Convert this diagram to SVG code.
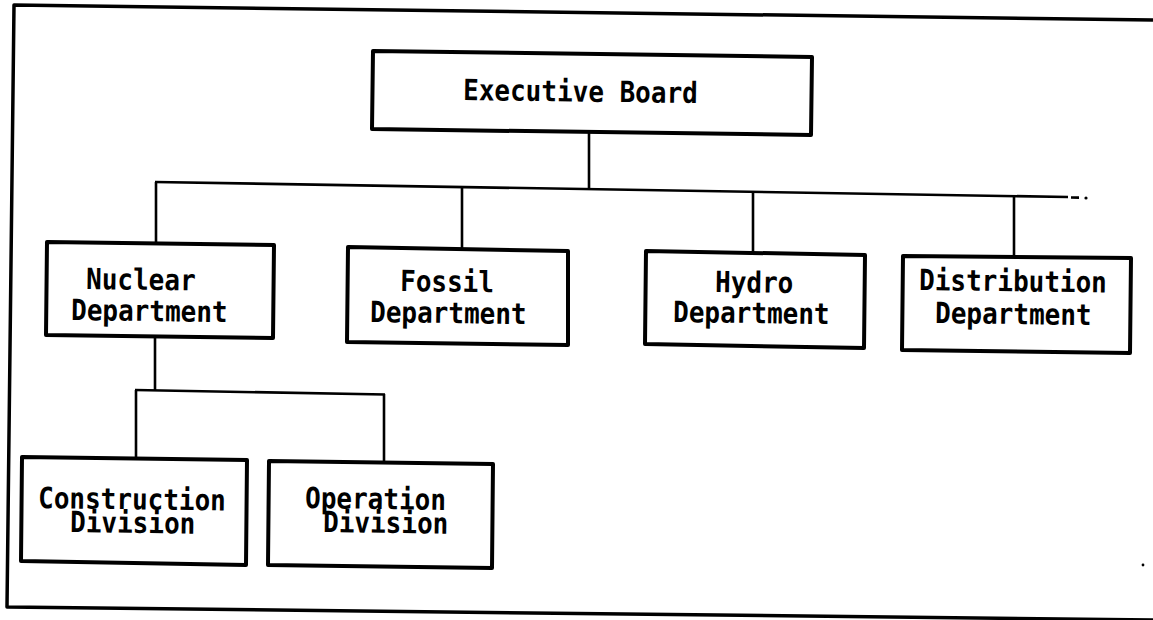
<svg xmlns="http://www.w3.org/2000/svg" width="1153" height="620" viewBox="0 0 1153 620">
  <style>
    .frame { fill: none; stroke: #000; stroke-width: 3.5; stroke-linejoin: round; }
    .box { fill: #fff; stroke: #000; stroke-width: 4; stroke-linejoin: round; }
    .wire { fill: none; stroke: #000; stroke-width: 2.6; stroke-linecap: butt; }
    .label { font-family: "DejaVu Sans Mono", "Liberation Mono", monospace; font-size: 26px; font-weight: bold; fill: #000; }
  </style>

  <rect width="1153" height="620" fill="#fff"/>

  <!-- page border (open on the right) -->
  <polyline class="frame" points="1153,20 14,5 7,607 1153,620"/>

  <!-- connectors -->
  <g id="connectors">
    <line class="wire" x1="589" y1="131" x2="589" y2="188"/>
    <line class="wire" x1="155" y1="182" x2="1068" y2="197"/>
    <line class="wire" x1="1071" y1="197.5" x2="1079" y2="197.6"/>
    <circle cx="1086" cy="198" r="1.6" fill="#000"/>
    <line class="wire" x1="156" y1="182" x2="156" y2="243"/>
    <line class="wire" x1="462" y1="186" x2="462" y2="248"/>
    <line class="wire" x1="753" y1="191" x2="753" y2="252"/>
    <line class="wire" x1="1014" y1="195" x2="1014" y2="257"/>
    <line class="wire" x1="155" y1="337" x2="155" y2="391"/>
    <line class="wire" x1="135" y1="390" x2="385" y2="394.5"/>
    <line class="wire" x1="136" y1="390" x2="136" y2="458"/>
    <line class="wire" x1="384" y1="394" x2="384" y2="462"/>
  </g>

  <!-- labels are set slightly tall and tilted like the rest of the sheet -->
  <g id="executive-board">
    <polygon class="box" points="373,51 812,57 811,135 372,129"/>
    <text class="label" transform="translate(463 100) rotate(0.75) scale(1 1.12)">Executive Board</text>
  </g>

  <g id="nuclear-department">
    <polygon class="box" points="47,242 274,245 273,338 46,335"/>
    <text class="label" transform="translate(86 289) rotate(0.75) scale(1 1.12)">Nuclear</text>
    <text class="label" transform="translate(71 320) rotate(0.75) scale(1 1.12)">Department</text>
  </g>

  <g id="fossil-department">
    <polygon class="box" points="348,247 568,251 568,345 347,342"/>
    <text class="label" transform="translate(400 291) rotate(0.75) scale(1 1.12)">Fossil</text>
    <text class="label" transform="translate(370 322) rotate(0.75) scale(1 1.12)">Department</text>
  </g>

  <g id="hydro-department">
    <polygon class="box" points="646,251 865,255 864,348 645,344"/>
    <text class="label" transform="translate(715 292) rotate(0.75) scale(1 1.12)">Hydro</text>
    <text class="label" transform="translate(673 322) rotate(0.75) scale(1 1.12)">Department</text>
  </g>

  <g id="distribution-department">
    <polygon class="box" points="903,256 1131,258 1130,353 902,350"/>
    <text class="label" transform="translate(919 290) rotate(0.75) scale(1 1.12)">Distribution</text>
    <text class="label" transform="translate(935 323) rotate(0.75) scale(1 1.12)">Department</text>
  </g>

  <g id="construction-division">
    <polygon class="box" points="22,457 247,460 246,565 21,561"/>
    <text class="label" transform="translate(38 508) rotate(0.75) scale(1 1.12)">Construction</text>
    <text class="label" transform="translate(70 532) rotate(0.75) scale(1 1.12)">Division</text>
  </g>

  <g id="operation-division">
    <polygon class="box" points="269,461 493,464 492,568 268,565"/>
    <text class="label" transform="translate(305 508) rotate(0.75) scale(1 1.12)">Operation</text>
    <text class="label" transform="translate(323 532) rotate(0.75) scale(1 1.12)">Division</text>
  </g>

  <!-- speck near the lower right -->
  <circle cx="1143" cy="565" r="1.4" fill="#000"/>
</svg>
